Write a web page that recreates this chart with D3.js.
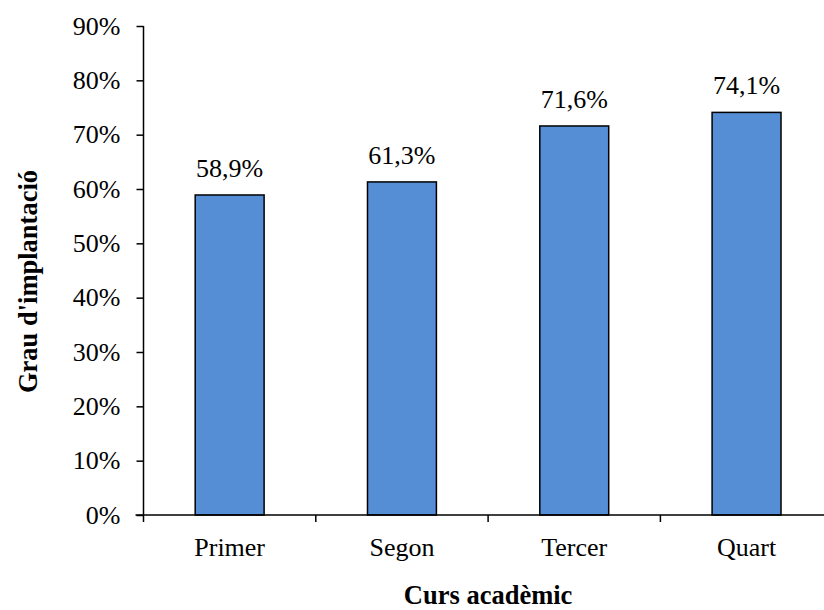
<!DOCTYPE html>
<html>
<head>
<meta charset="utf-8">
<script src="https://cdn.jsdelivr.net/npm/d3@7"></script>
<style>
  html, body { margin: 0; padding: 0; background: #fff; }
  svg { display: block; }
  text { font-family: "Liberation Serif", "Times New Roman", serif; fill: #000; }
</style>
</head>
<body>
<svg id="chart" width="824" height="610"></svg>
<script>
// Implantation rate by academic year
const categories = ["Primer", "Segon", "Tercer", "Quart"];
const values = [58.9, 61.3, 71.6, 74.1];
const yTicks = [0, 10, 20, 30, 40, 50, 60, 70, 80, 90];
const xTitle = "Curs acadèmic";
const yTitle = "Grau d'implantació";

const FONT = "'Liberation Serif', 'Times New Roman', serif";
const FS = 26;

const svg = d3.select("#chart");
const x0 = 143.5, plotW = 4 * 172.3;
const yTop = 26, yBase = 515;

const x = d3.scaleBand().domain(categories).range([x0, x0 + plotW]).paddingInner(0.6).paddingOuter(0.3);
const y = d3.scaleLinear().domain([0, 90]).range([yBase, yTop]);

const fmt = v => v.toFixed(1).replace(".", ",") + "%";

// bars
svg.append("g").selectAll("rect").data(values).join("rect")
  .attr("x", (d, i) => x(categories[i]))
  .attr("y", d => y(d))
  .attr("width", x.bandwidth())
  .attr("height", d => y(0) - y(d))
  .attr("fill", "#558ed5")
  .attr("stroke", "#000")
  .attr("stroke-width", 1.5);

// value labels
svg.append("g").selectAll("text").data(values).join("text")
  .attr("x", (d, i) => x(categories[i]) + x.bandwidth() / 2)
  .attr("y", d => y(d) - 18)
  .attr("text-anchor", "middle")
  .style("font-family", FONT)
  .style("font-size", FS + "px")
  .text(fmt);

// y axis
const yAxis = svg.append("g").attr("transform", `translate(${x0},0)`)
  .call(d3.axisLeft(y).tickValues(yTicks).tickSize(7).tickPadding(16).tickFormat(d => d + "%"));
yAxis.attr("font-family", null).attr("font-size", null);
yAxis.select(".domain").attr("stroke", "#000").attr("stroke-width", 1.5).attr("d", `M0,${yTop}V${yBase}`);
yAxis.selectAll(".tick line").attr("stroke", "#000").attr("stroke-width", 1.5);
yAxis.selectAll(".tick text")
  .style("font-family", FONT).style("font-size", FS + "px").attr("fill", "#000");

// x axis with boundary ticks between categories
const xb = d3.scaleLinear().domain([0, 4]).range([x0, x0 + plotW]);
const xAxis = svg.append("g").attr("transform", `translate(0,${yBase})`);
xAxis.append("line").attr("x1", x0 - 8).attr("x2", 824).attr("stroke", "#000").attr("stroke-width", 1.5);
xAxis.selectAll("line.t").data([0, 1, 2, 3, 4]).join("line").attr("class", "t")
  .attr("x1", d => xb(d)).attr("x2", d => xb(d)).attr("y1", 0).attr("y2", 7)
  .attr("stroke", "#000").attr("stroke-width", 1.5);
xAxis.selectAll("text").data(categories).join("text")
  .attr("x", d => x(d) + x.bandwidth() / 2)
  .attr("y", 41)
  .attr("text-anchor", "middle")
  .style("font-family", FONT)
  .style("font-size", FS + "px")
  .text(d => d);

// axis titles
svg.append("text")
  .attr("x", x0 + plotW / 2).attr("y", 604)
  .attr("text-anchor", "middle")
  .style("font-family", FONT).style("font-size", "26.5px").style("font-weight", "bold")
  .text(xTitle);
svg.append("text")
  .attr("transform", `translate(37,281.5) rotate(-90)`)
  .attr("text-anchor", "middle")
  .style("font-family", FONT).style("font-size", "26.5px").style("font-weight", "bold")
  .text(yTitle);
</script>
</body>
</html>
